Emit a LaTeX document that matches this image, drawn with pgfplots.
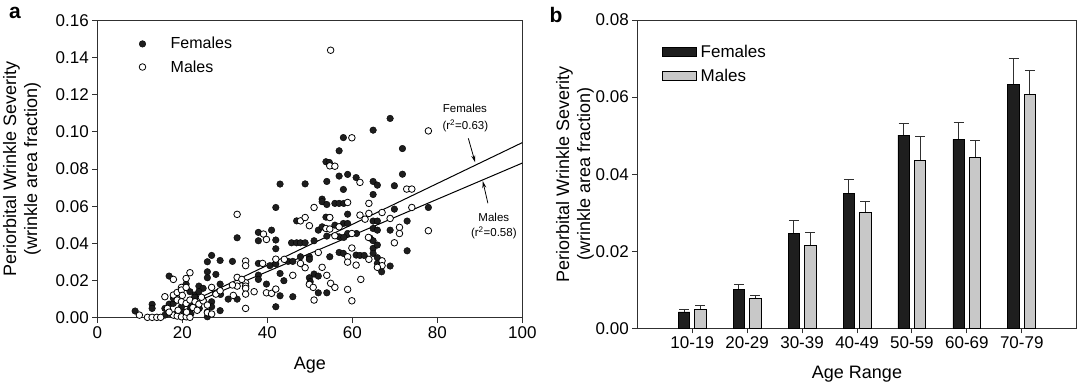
\documentclass[border=0pt]{standalone}
\usepackage{fontspec}
\setmainfont{Liberation Sans}
\usepackage{pgfplots}
\pgfplotsset{compat=1.18}
\usetikzlibrary{arrows.meta}
\definecolor{fem}{HTML}{1E1E1E}
\definecolor{mal}{HTML}{C8C8C8}
\definecolor{axc}{HTML}{303030}
\tikzset{lab/.style={font=\fontsize{18}{21}\selectfont, align=center, anchor=center}}

\begin{document}
\begin{tikzpicture}
\path[use as bounding box] (0pt,0pt) rectangle (1078pt,384pt);
\pgfplotsset{
  common/.style={
    scale only axis, anchor=south west,
    axis line style={line width=0.9pt, color=axc},
    tick style={line width=0.9pt, color=axc},
    tick align=outside, tick pos=left, major tick length=5pt,
    ticklabel style={font=\fontsize{17}{20}\selectfont},
    scaled ticks=false,
  },
}
% ---------------- panel a ----------------
\begin{axis}[common, at={(97.3pt,66.3pt)}, width=425pt, height=297.4pt,
  xmin=0, xmax=100, ymin=0, ymax=0.16, clip=false,
  xtick={0,20,40,60,80,100}, xticklabels={0,20,40,60,80,100},
  ytick={0,0.02,0.04,0.06,0.08,0.10,0.12,0.14,0.16},
  yticklabels={0.00,0.02,0.04,0.06,0.08,0.10,0.12,0.14,0.16},
  xlabel={Age},
  ylabel={Periorbital Wrinkle Severity\\(wrinkle area fraction)},
  every axis x label/.style={at={(axis description cs:0.5,-0.159)}, lab},
  every axis y label/.style={at={(axis description cs:-0.177,0.5)}, lab, rotate=90},
  legend style={at={(axis cs:9.6,0.152)}, anchor=north west, draw=none, fill=none,
    inner sep=0pt, row sep=6pt, font=\fontsize{16}{19}\selectfont},
  legend cell align=left,
  legend image code/.code={\draw[#1] plot coordinates {(4pt,0pt)}; \path (0pt,0pt) (30pt,0pt);},
]
\addplot[only marks, mark=*, mark size=3.3pt, mark options={fill=fem, draw=black}] coordinates {
(68.9,0.1072) (64.9,0.1009) (57.9,0.0969) (56.9,0.0898) (71.8,0.0910) (53.8,0.0839)
(54.6,0.0835) (56.9,0.0762) (58.9,0.0771) (60.9,0.0754) (71.8,0.0772) (43.0,0.0719)
(48.9,0.0720) (54.0,0.0733) (64.9,0.0733) (65.9,0.0713) (69.9,0.0710) (57.9,0.0690)
(64.9,0.0663) (52.9,0.0638) (52.9,0.0624) (54.0,0.0609) (55.9,0.0615) (56.9,0.0615)
(58.0,0.0615) (42.0,0.0593) (69.9,0.0584) (77.9,0.0593) (58.9,0.0557) (46.9,0.0521)
(53.8,0.0541) (54.7,0.0539) (64.9,0.0520) (65.9,0.0520) (72.9,0.0520) (55.9,0.0498)
(57.9,0.0507) (58.9,0.0507) (52.0,0.0471) (52.9,0.0489) (64.9,0.0480) (65.9,0.0471)
(68.9,0.0471) (41.0,0.0471) (37.9,0.0459) (32.9,0.0430) (37.9,0.0414) (42.0,0.0418)
(58.9,0.0453) (61.0,0.0453) (56.9,0.0435) (54.0,0.0439) (58.0,0.0432) (64.2,0.0428)
(45.7,0.0403) (46.9,0.0403) (47.8,0.0403) (48.9,0.0403) (51.0,0.0414) (64.9,0.0414)
(64.9,0.0373) (65.9,0.0391) (42.0,0.0371) (64.9,0.0346) (72.9,0.0360) (56.9,0.0351)
(57.9,0.0346) (60.9,0.0337) (61.8,0.0335) (62.8,0.0335) (65.9,0.0323) (54.7,0.0328)
(47.8,0.0328) (49.9,0.0328) (49.9,0.0314) (26.9,0.0335) (25.9,0.0301) (28.9,0.0308)
(31.8,0.0303) (37.9,0.0292) (40.6,0.0280) (42.0,0.0289) (44.9,0.0303) (46.0,0.0303)
(65.9,0.0292) (25.9,0.0247) (27.9,0.0233) (25.9,0.0215) (37.9,0.0229) (37.9,0.0206)
(43.0,0.0238) (43.9,0.0199) (51.0,0.0235) (49.9,0.0215) (52.0,0.0224) (50.1,0.0194)
(66.9,0.0247) (68.9,0.0278) (16.9,0.0224) (20.9,0.0181) (23.9,0.0170) (28.9,0.0181)
(39.8,0.0181) (49.9,0.0181) (8.9,0.0036) (12.9,0.0072) (12.9,0.0050) (15.9,0.0050)
(16.9,0.0073) (17.9,0.0077) (16.9,0.0023) (15.9,0.0014) (21.8,0.0140) (23.0,0.0122)
(24.9,0.0158) (23.9,0.0140) (24.9,0.0095) (26.9,0.0086) (26.9,0.0059) (25.9,0.0032)
(25.9,0.0005) (28.9,0.0038) (30.8,0.0100) (32.9,0.0100) (43.0,0.0118) (42.0,0.0059)
(46.0,0.0113) (52.0,0.0134) (54.0,0.0134) (21.8,0.0041) (19.8,0.0059) (21.8,0.0068)
(17.9,0.0104) (18.8,0.0131) (22.9,0.0110) (20.5,0.0030) (24.0,0.0050) (27.8,0.0130)
(18.5,0.0020) (22.0,0.0020) (29.0,0.0125)
};
\addlegendentry{Females}
\addplot[only marks, mark=*, mark size=3.3pt, mark options={fill=white, draw=black, line width=0.8pt}] coordinates {
(54.9,0.1439) (77.9,0.1005) (59.9,0.0968) (54.7,0.0817) (55.9,0.0815) (61.8,0.0728)
(72.8,0.0692) (74.0,0.0692) (58.9,0.0620) (63.9,0.0615) (51.0,0.0593) (74.0,0.0593)
(32.9,0.0556) (61.8,0.0552) (63.9,0.0561) (67.0,0.0566) (54.7,0.0539) (47.8,0.0521)
(48.9,0.0539) (63.0,0.0530) (68.9,0.0534) (49.9,0.0495) (53.8,0.0480) (54.7,0.0477)
(56.9,0.0489) (71.1,0.0486) (77.9,0.0468) (39.1,0.0450) (55.9,0.0441) (59.9,0.0453)
(63.8,0.0432) (71.1,0.0453) (39.8,0.0421) (69.9,0.0403) (52.0,0.0351) (59.9,0.0375)
(58.9,0.0328) (63.9,0.0314) (67.0,0.0306) (42.0,0.0315) (34.9,0.0305) (34.9,0.0280)
(44.0,0.0314) (47.8,0.0292) (48.9,0.0269) (58.9,0.0299) (60.9,0.0283) (67.0,0.0280)
(65.9,0.0271) (38.9,0.0292) (32.9,0.0217) (32.9,0.0170) (34.9,0.0188) (34.9,0.0170)
(46.0,0.0228) (54.0,0.0228) (52.9,0.0271) (62.0,0.0206) (34.0,0.0206) (17.9,0.0206)
(20.9,0.0211) (19.8,0.0163) (21.8,0.0242) (9.9,0.0014) (11.8,0.0002) (12.9,0.0002)
(14.0,0.0002) (14.9,0.0002) (17.9,0.0014) (18.8,0.0009) (19.8,0.0005) (20.9,0.0005)
(21.8,0.0002) (15.9,0.0113) (17.9,0.0122) (18.8,0.0136) (19.8,0.0149) (20.9,0.0163)
(18.8,0.0095) (19.8,0.0086) (20.9,0.0077) (21.8,0.0095) (23.0,0.0086) (23.9,0.0073)
(24.9,0.0091) (25.9,0.0068) (25.9,0.0027) (26.9,0.0020) (26.9,0.0163) (27.9,0.0127)
(28.9,0.0145) (31.8,0.0176) (32.0,0.0120) (34.9,0.0158) (34.9,0.0127) (34.9,0.0050)
(36.9,0.0140) (39.8,0.0134) (41.0,0.0131) (42.0,0.0154) (51.0,0.0095) (54.9,0.0185)
(55.9,0.0163) (58.9,0.0152) (59.9,0.0091) (49.9,0.0179) (50.8,0.0163) (16.5,0.0050)
(19.0,0.0040) (21.0,0.0030) (22.5,0.0055) (24.5,0.0110) (16.9,0.0030) (20.0,0.0120)
(23.5,0.0040)
};
\addlegendentry{Males}
\addplot[forget plot, line width=1pt, color=black] coordinates {(21,0.0073) (100,0.0942)};
\addplot[forget plot, line width=1pt, color=black] coordinates {(21,0.0063) (100,0.0832)};
\node[font=\fontsize{11.5}{13}\selectfont] at (axis cs:86.5,0.1128) {Females};
\node[font=\fontsize{11.5}{13}\selectfont] at (axis cs:86.6,0.1031) {(r\textsuperscript{2}=0.63)};
\node[font=\fontsize{11.5}{13}\selectfont] at (axis cs:93.3,0.0542) {Males};
\node[font=\fontsize{11.5}{13}\selectfont] at (axis cs:93.3,0.0456) {(r\textsuperscript{2}=0.58)};
\draw[line width=0.8pt, -{Stealth[length=7pt,width=4pt,open]}] (axis cs:87.3,0.0965) -- (axis cs:88.9,0.0836);
\draw[line width=0.8pt, -{Stealth[length=7pt,width=4pt,open]}] (axis cs:91.9,0.0616) -- (axis cs:90.7,0.0735);
\end{axis}
% ---------------- panel b ----------------
\begin{axis}[common, at={(637.3pt,55.7pt)}, width=439.4pt, height=308.3pt,
  xmin=-1, xmax=7, ymin=0, ymax=0.08,
  xtick={0,1,2,3,4,5,6}, xticklabels={10-19,20-29,30-39,40-49,50-59,60-69,70-79},
  ytick={0,0.02,0.04,0.06,0.08}, yticklabels={0.00,0.02,0.04,0.06,0.08},
  xlabel={Age Range},
  ylabel={Periorbital Wrinkle Severity\\(wrinkle area fraction)},
  every axis x label/.style={at={(axis description cs:0.5,-0.148)}, lab},
  every axis y label/.style={at={(axis description cs:-0.142,0.5)}, lab, rotate=90},
  legend style={at={(axis cs:-0.556,0.0741)}, anchor=north west, draw=none, fill=none,
    inner sep=0pt, row sep=6pt, font=\fontsize{17}{20}\selectfont},
  legend cell align=left,
  legend image code/.code={\draw[#1] (0pt,-4.5pt) rectangle (34pt,4.5pt); \path (0pt,0pt) (36pt,0pt);},
]
\addlegendimage{fill=fem, draw=black, line width=0.8pt}
\addlegendentry{Females}
\addlegendimage{fill=mal, draw=black, line width=0.8pt}
\addlegendentry{Males}
% error bars (drawn at the bar centres)
\addplot[forget plot, draw=none, mark=none,
  error bars/.cd, y dir=plus, y explicit, error mark=|,
  error bar style={line width=1pt, color=axc},
  error mark options={line width=1pt, color=axc, mark size=5pt}]
  table[x=x, y=y, y error=e] {
x y e
-0.149 0.00424 0.0006
0.851 0.0101 0.0012
1.851 0.0247 0.0032
2.851 0.0349 0.0037
3.851 0.0501 0.0031
4.851 0.0490 0.0044
5.851 0.0633 0.0068
};
\addplot[forget plot, draw=none, mark=none,
  error bars/.cd, y dir=plus, y explicit, error mark=|,
  error bar style={line width=1pt, color=axc},
  error mark options={line width=1pt, color=axc, mark size=5pt}]
  table[x=x, y=y, y error=e] {
x y e
0.149 0.00493 0.0010
1.149 0.00779 0.0008
2.149 0.0215 0.0033
3.149 0.0300 0.0030
4.149 0.0435 0.0062
5.149 0.0444 0.0043
6.149 0.0606 0.0063
};
\addplot[forget plot, ybar, bar width=0.21, bar shift=-0.149, fill=fem, draw=black, line width=0.8pt]
  table[x=x, y=y] {
x y
0 0.00424
1 0.0101
2 0.0247
3 0.0349
4 0.0501
5 0.0490
6 0.0633
};
\addplot[forget plot, ybar, bar width=0.21, bar shift=0.149, fill=mal, draw=black, line width=0.8pt]
  table[x=x, y=y] {
x y
0 0.00493
1 0.00779
2 0.0215
3 0.0300
4 0.0435
5 0.0444
6 0.0606
};
\end{axis}
\node[font=\fontsize{21}{24}\selectfont\bfseries] at (15pt,371pt) {a};
\node[font=\fontsize{21}{24}\selectfont\bfseries] at (556pt,369pt) {b};
\end{tikzpicture}
\end{document}
